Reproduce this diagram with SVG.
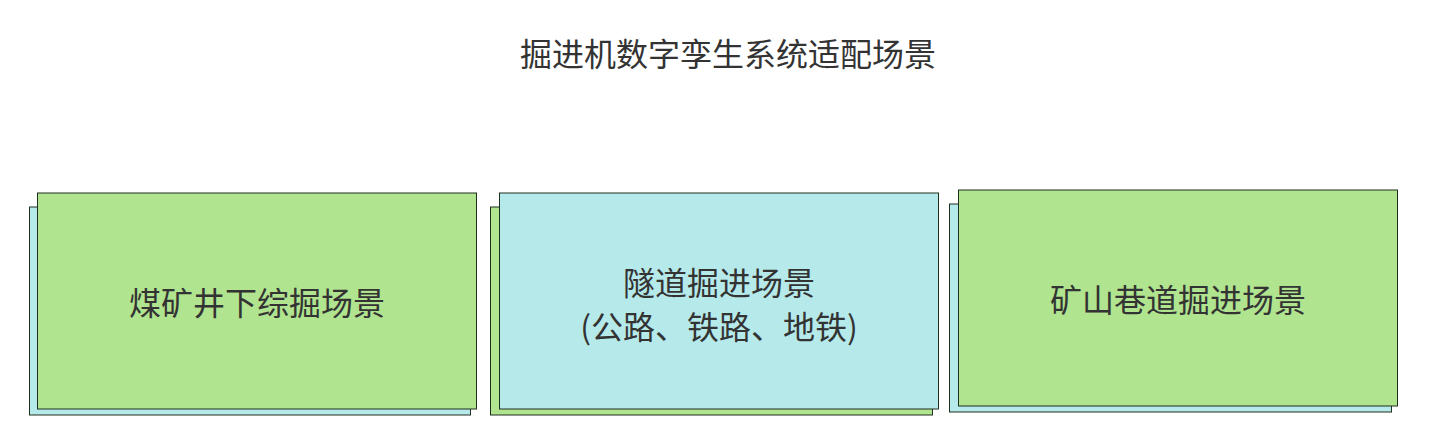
<svg xmlns="http://www.w3.org/2000/svg" width="1436" height="439" viewBox="0 0 1436 439">
<style>
text{font-family:"Noto Sans CJK SC","Noto Sans",sans-serif;fill:#333333;text-anchor:middle;font-size:32px}
.g{fill:#b0e48f;stroke:#1f2f1f;stroke-width:1}
.c{fill:#b6eaea;stroke:#1f2f1f;stroke-width:1}
</style>
<rect width="1436" height="439" fill="#ffffff"/>
<text id="title" x="728" y="65.5">掘进机数字孪生系统适配场景</text>
<g id="connectors"></g>
<g id="node1">
<rect class="c" x="29.5" y="207" width="441" height="208"/>
<rect class="g" x="37.5" y="193" width="439" height="216"/>
<text x="257" y="314.5">煤矿井下综掘场景</text>
</g>
<g id="node2">
<rect class="g" x="490.5" y="207" width="442" height="208"/>
<rect class="c" x="499.5" y="193" width="439" height="216"/>
<text x="719" y="294.5">隧道掘进场景</text>
<text x="719" y="338.5">(公路、铁路、地铁)</text>
</g>
<g id="node3">
<rect class="c" x="949.5" y="204" width="442" height="208"/>
<rect class="g" x="958.5" y="190" width="439" height="216"/>
<text x="1178" y="311.5">矿山巷道掘进场景</text>
</g>
</svg>
